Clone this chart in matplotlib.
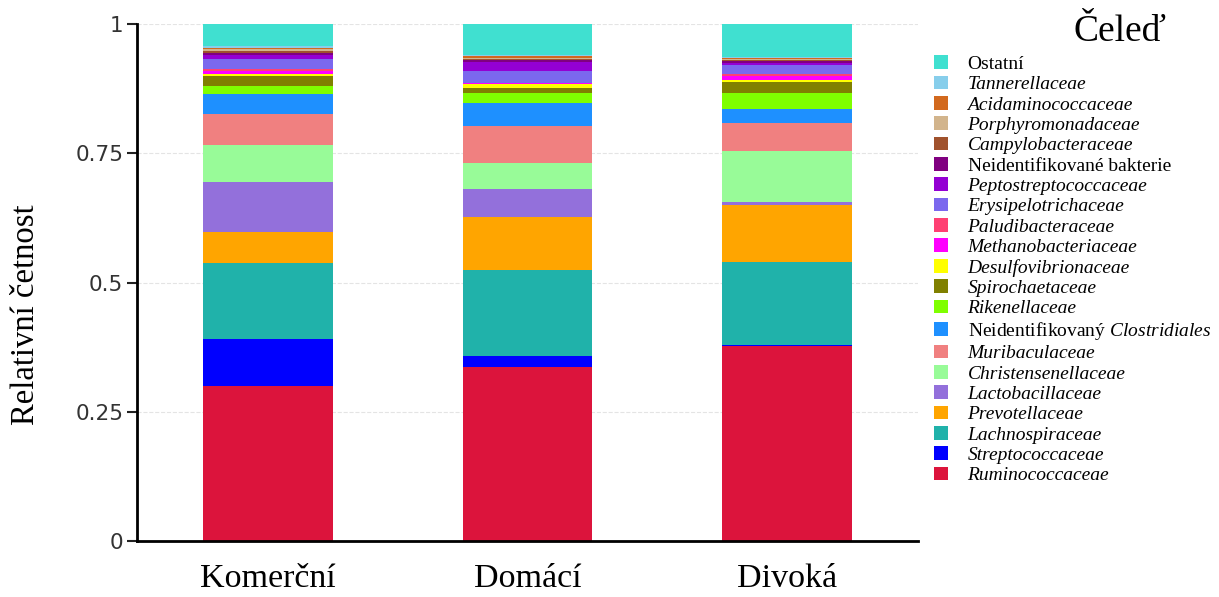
import matplotlib
matplotlib.use('Agg')

import numpy as np
import matplotlib.pyplot as plt

plt.rcParams['mathtext.fontset'] = 'custom'
plt.rcParams['mathtext.rm'] = 'Liberation Serif'
plt.rcParams['mathtext.it'] = 'Liberation Serif:italic'

# groups on the x axis
groups = ['Komerční', 'Domácí', 'Divoká']

# families, bottom of the stack first
families = ['Ruminococcaceae', 'Streptococcaceae', 'Lachnospiraceae', 'Prevotellaceae',
            'Lactobacillaceae', 'Christensenellaceae', 'Muribaculaceae',
            'Neidentifikovaný $\\mathit{Clostridiales}$', 'Rikenellaceae', 'Spirochaetaceae',
            'Desulfovibrionaceae', 'Methanobacteriaceae', 'Paludibacteraceae',
            'Erysipelotrichaceae', 'Peptostreptococcaceae', 'Neidentifikované bakterie',
            'Campylobacteraceae', 'Porphyromonadaceae', 'Acidaminococcaceae',
            'Tannerellaceae', 'Ostatní']
upright = ['Neidentifikované bakterie', 'Ostatní', 'Neidentifikovaný $\\mathit{Clostridiales}$']

colors = ['#DC143C', '#0000FF', '#20B2AA', '#FFA500', '#9370DB', '#98FB98', '#F08080',
          '#1E90FF', '#7FFF00', '#808000', '#FFFF00', '#FF00FF', '#FF4073', '#7B68EE',
          '#9400D3', '#800080', '#A0522D', '#D2B48C', '#D2691E', '#87CEEB', '#40E0D0']

# relative abundance per family (same order as families)
komercni = [0.300, 0.090, 0.147, 0.060, 0.097, 0.072, 0.060, 0.039, 0.015, 0.019, 0.004,
            0.007, 0.002, 0.021, 0.008, 0.003, 0.004, 0.003, 0.003, 0.003, 0.043]
domaci = [0.337, 0.021, 0.166, 0.103, 0.054, 0.050, 0.072, 0.044, 0.019, 0.010, 0.008,
          0.001, 0.001, 0.023, 0.017, 0.004, 0.003, 0.002, 0.003, 0.002, 0.060]
divoka = [0.378, 0.002, 0.159, 0.110, 0.007, 0.099, 0.054, 0.027, 0.031, 0.021, 0.004,
          0.008, 0.003, 0.017, 0.004, 0.004, 0.002, 0.002, 0.003, 0.001, 0.064]

data = np.array([komercni, domaci, divoka]).T
x = np.arange(len(groups))

fig = plt.figure(figsize=(12.19, 5.97), dpi=100)
ax = fig.add_axes([0.1124, 0.0938, 0.6406, 0.866])

bottom = np.zeros(len(groups))
handles = []
for vals, col, name in zip(data, colors, families):
    b = ax.bar(x, vals, 0.5, bottom=bottom, color=col, label=name, zorder=2)
    handles.append(b)
    bottom += vals

ax.set_xlim(-0.506, 2.506)
ax.set_ylim(0, 1)
ax.set_yticks([0, 0.25, 0.5, 0.75, 1])
ax.set_yticklabels(['0', '0.25', '0.5', '0.75', '1'], fontsize=15.5, color='#333333')
ax.set_xticks(x)
ax.set_xticklabels(groups, fontsize=24.5, family='Liberation Serif')
ax.tick_params(axis='x', length=0, pad=16)
ax.tick_params(axis='y', length=7, width=1.5, color='#222222', pad=3)
ax.yaxis.grid(True, linestyle='--', color='#e4e4e4', linewidth=0.8, zorder=0)
ax.set_axisbelow(True)
for s in ['top', 'right']:
    ax.spines[s].set_visible(False)
for s in ['left', 'bottom']:
    ax.spines[s].set_linewidth(2)

fig.text(26 / 1219, 1 - 315 / 597, 'Relativní četnost', fontsize=23.5,
         family='Liberation Serif', rotation=90, ha='center', va='center')

leg = fig.legend(handles[::-1], families[::-1], loc='upper left',
                 bbox_to_anchor=(0.7586, 0.9235), frameon=False,
                 prop={'family': 'Liberation Serif', 'size': 14},
                 handlelength=0.7, handleheight=0.7, handletextpad=1.0,
                 labelspacing=0.14, borderpad=0)
for t in leg.get_texts():
    if t.get_text() not in upright:
        t.set_fontstyle('italic')

fig.text(0.919, 0.947, 'Čeleď', fontsize=27, family='Liberation Serif',
         ha='center', va='center')

fig.savefig('out.png', dpi=100)
